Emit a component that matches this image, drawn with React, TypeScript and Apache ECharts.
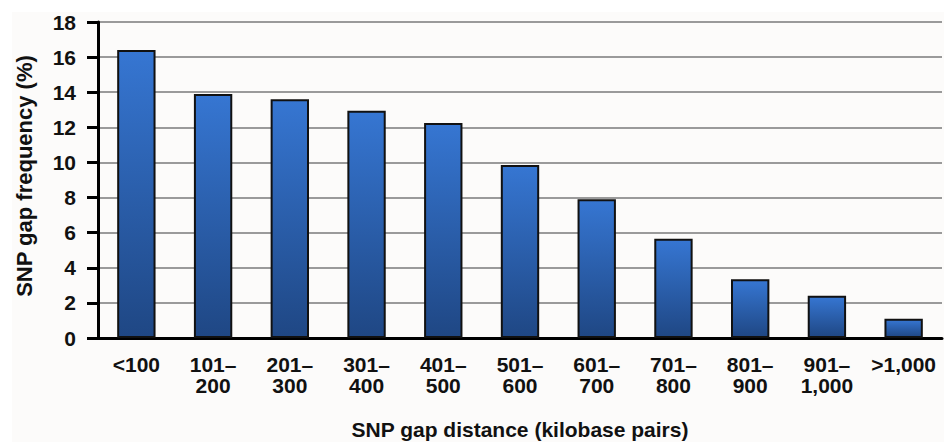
import React, { useEffect, useRef } from "react";
import * as echarts from "echarts";

const categories = ["<100", "101–\n200", "201–\n300", "301–\n400", "401–\n500", "501–\n600", "601–\n700", "701–\n800", "801–\n900", "901–\n1,000", ">1,000"];
const frequencies = [16.4, 13.9, 13.6, 12.95, 12.25, 9.85, 7.9, 5.65, 3.35, 2.4, 1.1];
const yTicks = { min: 0, max: 18, interval: 2 };

const FONT = "'Liberation Sans', Arial, sans-serif";

export default function App() {
  const ref = useRef<HTMLDivElement>(null);
  useEffect(() => {
    if (!ref.current) return;
    const chart = echarts.init(ref.current, null, { renderer: "svg" });
    chart.setOption({
      animation: false,
      backgroundColor: "#ffffff",
      graphic: [
        {
          type: "rect",
          z: -10,
          silent: true,
          shape: { x: 12, y: 12, width: 932, height: 430 },
          style: { fill: "#fcfbfa" },
        },
      ],
      grid: { left: 98, right: 2, top: 22, bottom: 105, containLabel: false, outerBoundsMode: "none" },
      xAxis: {
        type: "category",
        data: categories,
        name: "SNP gap distance (kilobase pairs)",
        nameLocation: "middle",
        nameGap: 81,
        nameTextStyle: { fontFamily: FONT, fontSize: 21, fontWeight: "bold", color: "#111" },
        axisLine: { lineStyle: { color: "#000", width: 3 } },
        axisTick: { alignWithLabel: true, length: 9, lineStyle: { color: "#000", width: 3 } },
        axisLabel: {
          interval: 0,
          margin: 16,
          fontFamily: FONT,
          fontSize: 21,
          fontWeight: "bold",
          color: "#111",
          lineHeight: 21,
        },
      },
      yAxis: {
        type: "value",
        min: yTicks.min,
        max: yTicks.max,
        interval: yTicks.interval,
        name: "SNP gap frequency (%)",
        nameLocation: "middle",
        nameGap: 63,
        nameTextStyle: { fontFamily: FONT, fontSize: 22, fontWeight: "bold", color: "#111", padding: [0, 0, 0, 8] },
        axisLine: { show: true, lineStyle: { color: "#000", width: 3 } },
        axisTick: { show: true, length: 11, lineStyle: { color: "#000", width: 3 } },
        axisLabel: {
          margin: 22,
          fontFamily: FONT,
          fontSize: 21,
          fontWeight: "bold",
          color: "#111",
        },
        splitLine: { show: true, lineStyle: { color: "#9a9a9a", width: 2 } },
      },
      series: [
        {
          type: "bar",
          data: frequencies,
          barWidth: "50%",
          itemStyle: {
            borderColor: "#111",
            borderWidth: 2,
            color: new echarts.graphic.LinearGradient(0, 0, 0, 1, [
              { offset: 0, color: "#3676d2" },
              { offset: 1, color: "#1f4784" },
            ]),
          },
        },
      ],
    });
    return () => chart.dispose();
  }, []);
  return <div ref={ref} style={{ position: "fixed", left: 0, top: 0, width: 944, height: 443 }} />;
}
